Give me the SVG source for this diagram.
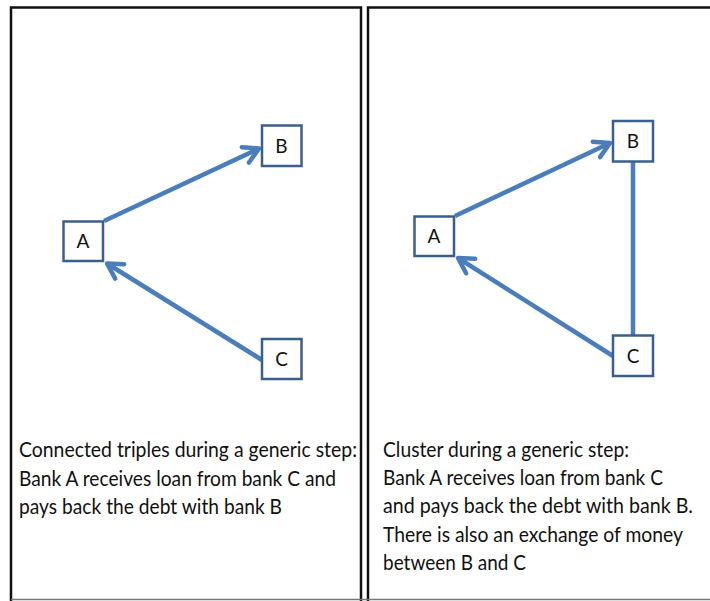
<svg xmlns="http://www.w3.org/2000/svg" width="710" height="601" viewBox="0 0 710 601">
  <style>
    .frame { fill: none; stroke: #111; stroke-width: 2.5; }
    .base { stroke: #777; stroke-width: 1.5; }
    .node rect { fill: #fff; stroke: #3b5f8d; stroke-width: 2.5; }
    .node text { font-family: Lato, "Open Sans", "Liberation Sans", sans-serif; font-size: 19px; fill: #111; text-anchor: middle; }
    .edge { stroke: #4a7ebb; stroke-width: 4.5; fill: none; }
    .caption { font-family: Lato, "Open Sans", "Liberation Sans", sans-serif; font-size: 20.5px; fill: #111; }
  </style>
  <defs>
    <marker id="chevron" markerUnits="userSpaceOnUse" markerWidth="30" markerHeight="30" refX="0" refY="0" viewBox="-20 -15 30 30" orient="auto">
      <path d="M-15,-8.5 L0,0 L-15,8.5" fill="none" stroke="#4a7ebb" stroke-width="4.5" stroke-linecap="round" stroke-linejoin="round"/>
    </marker>
  </defs>

  <!-- panel frames -->
  <g id="frames">
    <path class="frame" d="M11,601 V7.5 H361 V601"/>
    <path class="frame" d="M368,601 V7.5 H712"/>
    <line class="base" x1="11" y1="599.5" x2="710" y2="599.5"/>
  </g>

  <!-- connectors -->
  <g id="connectors">
    <line class="edge" x1="104" y1="221" x2="259" y2="148.5" marker-end="url(#chevron)"/>
    <line class="edge" x1="262" y1="360" x2="107" y2="263.5" marker-end="url(#chevron)"/>
    <line class="edge" x1="455" y1="216" x2="610" y2="143" marker-end="url(#chevron)"/>
    <line class="edge" x1="613" y1="356" x2="458" y2="258" marker-end="url(#chevron)"/>
    <line class="edge" x1="633" y1="161" x2="633" y2="335"/>
  </g>

  <!-- left panel nodes -->
  <g id="left-A" class="node"><rect x="63.5" y="221.5" width="39.5" height="39.5"/><text x="83" y="248">A</text></g>
  <g id="left-B" class="node"><rect x="262" y="125.5" width="39.5" height="40.5"/><text x="281.5" y="152.5">B</text></g>
  <g id="left-C" class="node"><rect x="262" y="339" width="39.5" height="40"/><text x="281.5" y="366">C</text></g>

  <!-- right panel nodes -->
  <g id="right-A" class="node"><rect x="414.5" y="216.5" width="39.5" height="39.5"/><text x="434" y="243">A</text></g>
  <g id="right-B" class="node"><rect x="613" y="121" width="40" height="40.5"/><text x="633" y="148">B</text></g>
  <g id="right-C" class="node"><rect x="613" y="335.5" width="40" height="40.5"/><text x="633" y="362.5">C</text></g>

  <!-- captions -->
  <g id="left-caption" class="caption">
    <text x="19" y="457" textLength="338" lengthAdjust="spacingAndGlyphs">Connected triples during a generic step:</text>
    <text x="19" y="486" textLength="317" lengthAdjust="spacingAndGlyphs">Bank A receives loan from bank C and</text>
    <text x="19" y="514" textLength="263" lengthAdjust="spacingAndGlyphs">pays back the debt with bank B</text>
  </g>
  <g id="right-caption" class="caption">
    <text x="383" y="457" textLength="246" lengthAdjust="spacingAndGlyphs">Cluster during a generic step:</text>
    <text x="383" y="485" textLength="280" lengthAdjust="spacingAndGlyphs">Bank A receives loan from bank C</text>
    <text x="383" y="513" textLength="310" lengthAdjust="spacingAndGlyphs">and pays back the debt with bank B.</text>
    <text x="383" y="542" textLength="300" lengthAdjust="spacingAndGlyphs">There is also an exchange of money</text>
    <text x="383" y="570" textLength="143" lengthAdjust="spacingAndGlyphs">between B and C</text>
  </g>
</svg>
